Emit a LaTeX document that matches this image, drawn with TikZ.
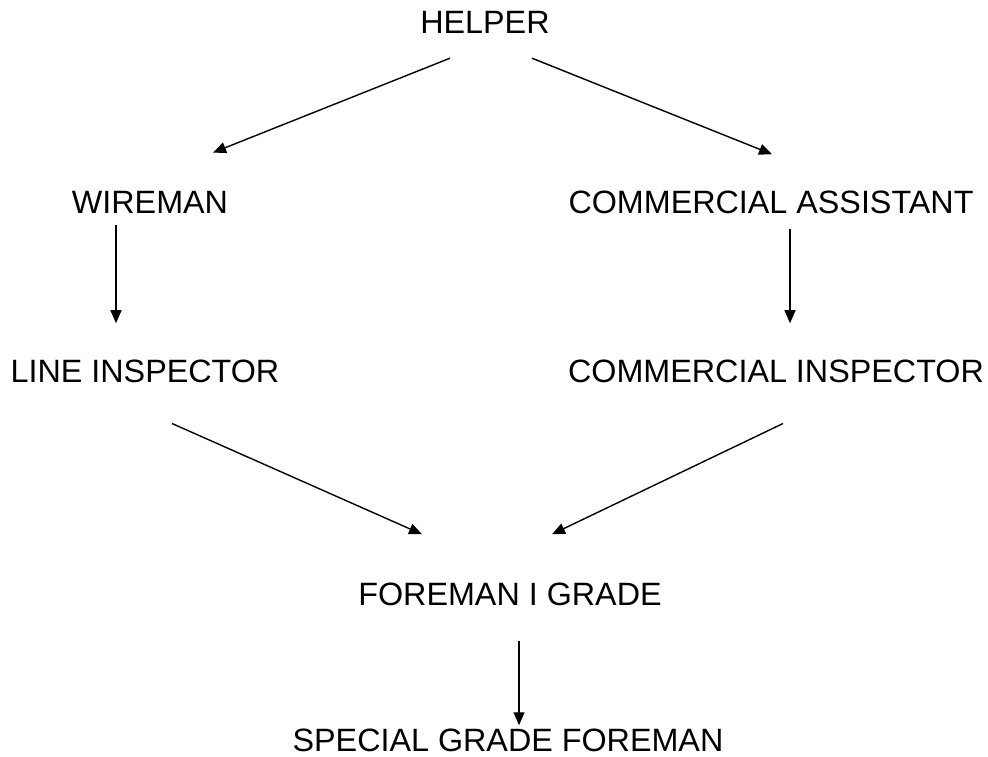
\documentclass[tikz,border=0pt]{standalone}
\usepackage{fontspec}
\setmainfont{Liberation Sans}
\usetikzlibrary{arrows.meta}

\begin{document}
\begin{tikzpicture}[x=1pt,y=-1pt,
                    post/.style={anchor=base,inner sep=0pt,font=\fontsize{32.3}{38}\selectfont},
                    promo/.style={-{Triangle[length=13pt,width=11pt]},line width=1.4pt}]
                    \useasboundingbox (0,0) rectangle (988,757);
                    \node[post] (helper)    at (485,34)  {HELPER};
                    \node[post] (wireman)   at (150,213) {WIREMAN};
                    \node[post] (comassist) at (771,213) {COMMERCIAL ASSISTANT};
                    \node[post] (lineinsp)  at (145,382) {LINE INSPECTOR};
                    \node[post] (cominsp)   at (776,382) {COMMERCIAL INSPECTOR};
                    \node[post] (foreman)   at (510,605) {FOREMAN I GRADE};
                    \node[post] (special)   at (508,751) {SPECIAL GRADE FOREMAN};
                    \draw[promo] ([xshift=-35pt,yshift=-24pt]helper.south) -- ([xshift=63pt,yshift=38pt]wireman.north);
                    \draw[promo] ([xshift=47pt,yshift=-24pt]helper.south) -- ([xshift=1pt,yshift=36pt]comassist.north);
                    \draw[promo] ([xshift=-34pt,yshift=-12pt]wireman.south) -- ([xshift=-29pt,yshift=36pt]lineinsp.north);
                    \draw[promo] ([xshift=19pt,yshift=-15pt]comassist.south) -- ([xshift=14pt,yshift=36pt]cominsp.north);
                    \draw[promo] ([xshift=27pt,yshift=-41pt]lineinsp.south) -- ([xshift=-88pt,yshift=48pt]foreman.north);
                    \draw[promo] ([xshift=7pt,yshift=-41pt]cominsp.south) -- ([xshift=42pt,yshift=48pt]foreman.north);
                    \draw[promo] ([xshift=9pt,yshift=-35pt]foreman.south) -- ([xshift=11pt,yshift=3pt]special.north);
\end{tikzpicture}
\end{document}
